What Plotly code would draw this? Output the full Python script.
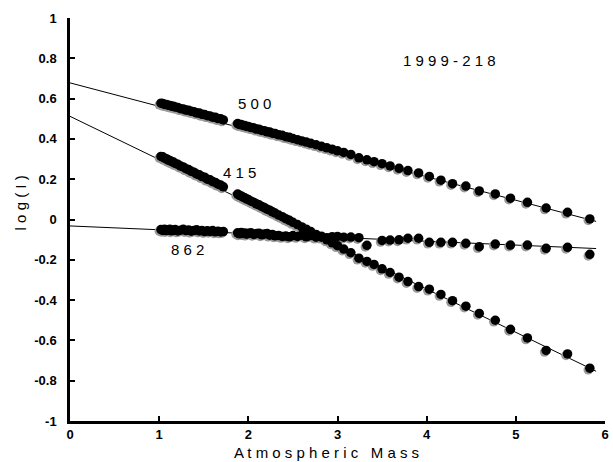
import plotly.graph_objects as go

# ---------------- data ----------------
AIRMASS = [1.02, 1.04, 1.06, 1.08, 1.10, 1.12, 1.14, 1.16, 1.18, 1.21, 1.24, 1.27, 1.30, 1.33,
           1.36, 1.39, 1.42, 1.45, 1.48, 1.51, 1.54, 1.57, 1.60, 1.63, 1.66, 1.69, 1.72,
           1.88, 1.90, 1.92, 1.94, 1.96, 1.98, 2.00, 2.03, 2.06, 2.09, 2.12, 2.15, 2.18, 2.21,
           2.24, 2.27, 2.30, 2.34, 2.38, 2.42, 2.46, 2.50, 2.55, 2.60, 2.65, 2.70, 2.76, 2.82,
           2.88, 2.94, 3.00, 3.07, 3.15,
           3.24, 3.33, 3.41, 3.50, 3.59, 3.69, 3.79, 3.91, 4.03, 4.16, 4.29, 4.44, 4.59, 4.77,
           4.94, 5.13, 5.34, 5.58, 5.83]

LOG_I_500 = [0.577, 0.576, 0.571, 0.571, 0.567, 0.566, 0.562, 0.562, 0.558, 0.556, 0.550, 0.549,
             0.543, 0.542, 0.537, 0.535, 0.529, 0.528, 0.522, 0.521, 0.515, 0.514, 0.508, 0.507,
             0.501, 0.500, 0.494,
             0.476, 0.471, 0.471, 0.467, 0.466, 0.462, 0.462, 0.456, 0.455, 0.449, 0.448, 0.442,
             0.441, 0.435, 0.434, 0.428, 0.427, 0.420, 0.418, 0.411, 0.408, 0.402, 0.396, 0.390,
             0.384, 0.378, 0.371, 0.363, 0.356, 0.349, 0.341, 0.333, 0.323,
             0.306, 0.296, 0.287, 0.277, 0.266, 0.254, 0.243, 0.231, 0.214, 0.195, 0.178, 0.166,
             0.142, 0.127, 0.106, 0.085, 0.057, 0.036, 0.003]

LOG_I_415 = [0.313, 0.311, 0.304, 0.302, 0.295, 0.293, 0.287, 0.285, 0.278, 0.274, 0.265, 0.261,
             0.252, 0.248, 0.239, 0.235, 0.226, 0.222, 0.213, 0.210, 0.200, 0.197, 0.188, 0.184,
             0.175, 0.171, 0.162,
             0.126, 0.120, 0.117, 0.111, 0.108, 0.102, 0.099, 0.091, 0.086, 0.078, 0.073, 0.065,
             0.059, 0.051, 0.046, 0.038, 0.032, 0.022, 0.014, 0.004, -0.004, -0.014, -0.025,
             -0.037, -0.048, -0.060, -0.074, -0.088, -0.101, -0.116, -0.130, -0.147, -0.165,
             -0.192, -0.208, -0.223, -0.245, -0.263, -0.286, -0.308, -0.333, -0.346, -0.372,
             -0.403, -0.430, -0.466, -0.500, -0.545, -0.588, -0.650, -0.667, -0.738]

LOG_I_862 = [-0.050, -0.054, -0.049, -0.055, -0.051, -0.048, -0.056, -0.052, -0.050, -0.057,
             -0.053, -0.049, -0.055, -0.052, -0.058, -0.054, -0.051, -0.057, -0.055, -0.060,
             -0.056, -0.059, -0.055, -0.061, -0.058, -0.062, -0.060,
             -0.066, -0.071, -0.064, -0.070, -0.067, -0.073, -0.068, -0.066, -0.074, -0.070,
             -0.068, -0.076, -0.072, -0.069, -0.078, -0.074, -0.081, -0.079, -0.084, -0.082,
             -0.086, -0.080, -0.084, -0.078, -0.086, -0.080, -0.088, -0.083, -0.090, -0.085,
             -0.084, -0.088, -0.087,
             -0.090, -0.128, None, -0.104, -0.102, -0.101, -0.093, -0.093, -0.113, -0.113,
             -0.113, -0.118, -0.135, -0.122, -0.127, -0.127, -0.143, -0.138, -0.173]

# Langley fit lines: log(I) = intercept + slope * airmass
FIT_WAVELENGTHS = ["500", "415", "862"]
FIT_INTERCEPT = [0.678, 0.512, -0.032]
FIT_SLOPE = [-0.1165, -0.2144, -0.019]
FIT_X_RANGE = [0.0, 5.9]

# in-plot labels
LABEL_TEXT = ["500", "415", "862", "1999-218"]
LABEL_X = [2.07, 1.90, 1.32, 4.26]
LABEL_Y = [0.578, 0.231, -0.151, 0.79]

X_RANGE = [0, 6]
Y_RANGE = [-1, 1]
X_TICKS = [0, 1, 2, 3, 4, 5, 6]
Y_TICKS = [-1, -0.8, -0.6, -0.4, -0.2, 0, 0.2, 0.4, 0.6, 0.8, 1]
Y_TICK_TEXT = ["-1", "-0.8", "-0.6", "-0.4", "-0.2", "0", "0.2", "0.4", "0.6", "0.8", "1"]
X_TITLE = "Atmospheric Mass"
Y_TITLE = "log(I)"

# ---------------- layout constants ----------------
W, H = 613, 462
ML, MR, MT, MB = 70, 4, 18, 41
PW, PH = W - ML - MR, H - MT - MB
SHADOW_PX = 1.6  # drop-shadow offset of the markers, in pixels
FONT = "Liberation Sans, Arial, Helvetica"


def spaced(s):
    # letter-spaced text as in the reference
    return " ".join("\u00a0" if c == " " else c for c in s)


fig = go.Figure()

# fit lines
for b, s in zip(FIT_INTERCEPT, FIT_SLOPE):
    fig.add_trace(go.Scatter(
        x=FIT_X_RANGE, y=[b + s * FIT_X_RANGE[0], b + s * FIT_X_RANGE[1]],
        mode="lines", line=dict(color="black", width=1), showlegend=False,
        hoverinfo="skip"))

series = (LOG_I_500, LOG_I_415, LOG_I_862)

# grey drop shadow (same data, drawn on slightly shifted overlay axes)
for ys in series:
    fig.add_trace(go.Scatter(
        x=AIRMASS, y=ys, mode="markers", xaxis="x2", yaxis="y2",
        marker=dict(symbol="circle", size=9.5, color="#9a9a9a"),
        showlegend=False, hoverinfo="skip"))

# black markers (overlay axes with the same range as the main axes, drawn last)
for ys in series:
    fig.add_trace(go.Scatter(
        x=AIRMASS, y=ys, mode="markers", xaxis="x3", yaxis="y3",
        marker=dict(symbol="circle", size=9.5, color="black"),
        showlegend=False))

for t, x, y in zip(LABEL_TEXT, LABEL_X, LABEL_Y):
    fig.add_annotation(x=x, y=y, xref="x", yref="y", text=spaced(t),
                       showarrow=False,
                       font=dict(family=FONT, size=15, color="black"))

# axis titles
fig.add_annotation(xref="paper", yref="paper", x=0.48, y=0, yshift=-31,
                   xanchor="center", yanchor="middle", showarrow=False,
                   text=spaced(X_TITLE), font=dict(family=FONT, size=15, color="black"))
fig.add_annotation(xref="paper", yref="paper", x=0, xshift=-50, y=0.54,
                   xanchor="center", yanchor="middle", showarrow=False, textangle=-90,
                   text=spaced(Y_TITLE), font=dict(family=FONT, size=15, color="black"))

axis_common = dict(
    showgrid=False, zeroline=False, showline=True, linecolor="black", linewidth=2.5,
    ticks="inside", tickcolor="black", tickwidth=2, ticklen=5,
    tickfont=dict(family=FONT, size=13, color="black", weight="bold"),
    mirror=False,
)

dx = SHADOW_PX * (X_RANGE[1] - X_RANGE[0]) / PW
dy = SHADOW_PX * (Y_RANGE[1] - Y_RANGE[0]) / PH

fig.update_layout(
    width=W, height=H,
    margin=dict(l=ML, r=MR, t=MT, b=MB),
    paper_bgcolor="white", plot_bgcolor="white",
    xaxis=dict(range=X_RANGE, tickvals=X_TICKS, ticklabeloverflow="allow", **axis_common),
    yaxis=dict(range=Y_RANGE, tickvals=Y_TICKS, ticktext=Y_TICK_TEXT,
               ticklabelstandoff=8, **axis_common),
    xaxis2=dict(range=[X_RANGE[0] + dx, X_RANGE[1] + dx], overlaying="x", visible=False),
    yaxis2=dict(range=[Y_RANGE[0] + dy, Y_RANGE[1] + dy], overlaying="y", visible=False),
    xaxis3=dict(range=X_RANGE, overlaying="x", visible=False),
    yaxis3=dict(range=Y_RANGE, overlaying="y", visible=False),
)

fig.write_html("out.html")
